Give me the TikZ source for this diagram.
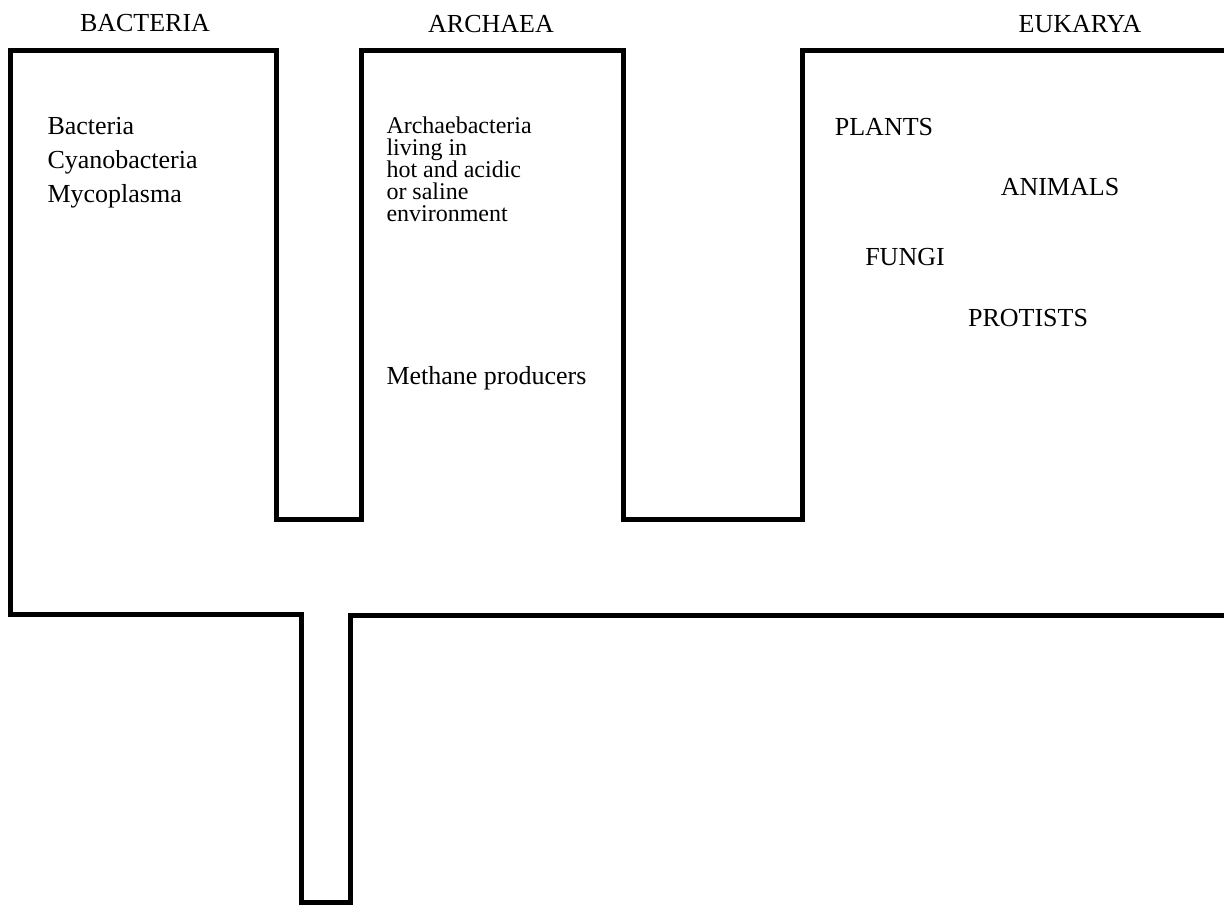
\documentclass[tikz,border=0pt]{standalone}
\usepackage{fontspec}
\setmainfont{Liberation Serif}
\begin{document}
\begin{tikzpicture}[x=0.5pt, y=-0.5pt, line width=2.5pt, line join=miter,
    every node/.style={font=\fontsize{13}{15}\selectfont, inner sep=0pt},
    domainlabel/.style={anchor=center},
    member/.style={anchor=base west}]
            \useasboundingbox (0,0) rectangle (1224,905);
            % outline of the three domains and the common stem
            \draw (1224,50) -- (802,50) -- (802,519) -- (623,519) -- (623,50)
                -- (361,50) -- (361,519) -- (276,519) -- (276,50) -- (10,50)
                -- (10,614) -- (301,614) -- (301,902) -- (350,902) -- (350,615)
                -- (1224,615);

            \node[domainlabel] (bacteria) at (145,23) {BACTERIA};
            \node[domainlabel] (archaea) at (491,24) {ARCHAEA};
            \node[domainlabel] (eukarya) at (1080,24) {EUKARYA};

            \foreach \name [count=\idx from 0] in {Bacteria, Cyanobacteria, Mycoplasma}
                \node[member] (bac-\idx) at (45,134+34*\idx) {\name};
            \foreach \name [count=\idx from 0] in {Archaebacteria, living in,
                    hot and acidic, or saline, environment}
                \node[member, font=\fontsize{12}{14}\selectfont] (arc-\idx)
                    at (384,133+22*\idx) {\name};
            \node[member] (methane) at (384,384) {Methane producers};

            \node (plants) at (884,127) {PLANTS};
            \node (animals) at (1060,187) {ANIMALS};
            \node (fungi) at (905,257) {FUNGI};
            \node (protists) at (1028,318) {PROTISTS};
\end{tikzpicture}
\end{document}
